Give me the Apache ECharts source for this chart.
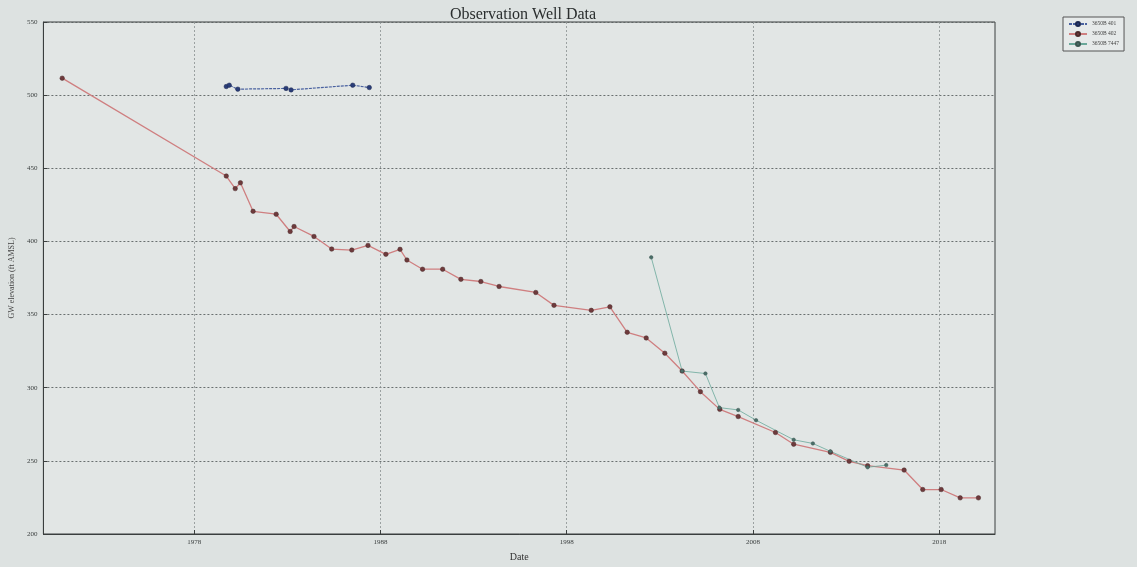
<!DOCTYPE html>
<html>
<head>
<meta charset="utf-8">
<script src="https://cdn.jsdelivr.net/npm/echarts@6/dist/echarts.min.js"></script>
<style>
  html, body { margin: 0; padding: 0; background: #dde2e1; }
  #chart { width: 1137px; height: 567px; }
</style>
</head>
<body>
<div id="chart"></div>
<script>
// ---- data (decimal years, GW elevation ft AMSL) ----
const seriesNames = ['3650B 401', '3650B 402', '3650B 7447'];

const blueYears  = [1979.72, 1979.88, 1980.34, 1982.93, 1983.20, 1986.51, 1987.40];
const blueLevels = [505.9, 506.8, 504.1, 504.6, 503.6, 506.8, 505.2];

const redYears  = [1970.91, 1979.72, 1980.20, 1980.48, 1981.16, 1982.40, 1983.15, 1983.36, 1984.43,
                   1985.38, 1986.46, 1987.33, 1988.29, 1989.05, 1989.42, 1990.26, 1991.34, 1992.32,
                   1993.39, 1994.37, 1996.34, 1997.32, 1999.32, 2000.32, 2001.25, 2002.27, 2003.27,
                   2004.20, 2005.18, 2006.22, 2007.21, 2009.21, 2010.19, 2012.16, 2013.17, 2014.16,
                   2016.12, 2017.12, 2018.11, 2019.13, 2020.11];
const redLevels = [511.6, 444.7, 436.1, 440.1, 420.6, 418.6, 406.8, 410.2, 403.4,
                   394.8, 394.1, 397.3, 391.2, 394.6, 387.3, 381.0, 381.0, 374.1,
                   372.6, 369.2, 365.1, 356.3, 352.9, 355.3, 337.9, 334.0, 323.6,
                   311.4, 297.3, 285.2, 280.3, 269.4, 261.4, 255.8, 249.7, 246.7,
                   243.7, 230.4, 230.4, 224.7, 224.7];

const tealYears  = [2002.54, 2004.20, 2005.45, 2006.20, 2007.21, 2008.17, 2010.19, 2011.22, 2012.16, 2014.16, 2015.16];
const tealLevels = [389.1, 311.4, 309.7, 286.4, 284.8, 277.8, 264.4, 261.9, 256.5, 245.6, 247.1];

const xTicks = [1978, 1988, 1998, 2008, 2018];

const zip = (a, b) => a.map((v, i) => [v, b[i]]);

const serif = '"Liberation Serif", "DejaVu Serif", serif';

const chart = echarts.init(document.getElementById('chart'));
chart.setOption({
  backgroundColor: '#dde2e1',
  animation: false,
  title: {
    text: 'Observation Well Data',
    left: 518, top: 2, textAlign: 'center',
    textStyle: { fontFamily: serif, fontSize: 16, fontWeight: 'normal', color: '#2a2e2e' }
  },
  legend: {
    orient: 'vertical',
    left: 1063, top: 17,
    padding: [4, 5, 4, 5],
    itemGap: 4,
    itemWidth: 18, itemHeight: 5,
    borderColor: '#555', borderWidth: 1,
    backgroundColor: '#e6eaea',
    textStyle: { fontFamily: serif, fontSize: 5.5, color: '#444' },
    data: seriesNames
  },
  grid: {
    left: 42, right: 142, top: 22, bottom: 30,
    show: true, backgroundColor: '#e2e6e5', borderColor: '#3a3e3e', borderWidth: 1
  },
  xAxis: {
    type: 'value',
    min: 1969.9, max: 2021.0,
    name: 'Date', nameLocation: 'middle', nameGap: 18,
    nameTextStyle: { fontFamily: serif, fontSize: 10, color: '#333' },
    axisLine: { show: true, lineStyle: { color: '#3a3e3e' } },
    axisTick: { show: true, inside: true, length: 4, customValues: xTicks, lineStyle: { color: '#3a3e3e' } },
    axisLabel: { customValues: xTicks, fontFamily: serif, fontSize: 7, color: '#3c4040', margin: 5,
                 formatter: v => String(Math.round(v)) },
    splitLine: { show: true, lineStyle: { color: '#8a9090', width: 0.8, type: [2, 2] } }
  },
  yAxis: {
    type: 'value',
    min: 200, max: 550, interval: 50,
    name: 'GW elevation (ft AMSL)', nameLocation: 'middle', nameGap: 25, nameRotate: 90,
    nameTextStyle: { fontFamily: serif, fontSize: 8, color: '#444' },
    axisLine: { show: true, lineStyle: { color: '#3a3e3e' } },
    axisTick: { show: true, inside: true, length: 4, lineStyle: { color: '#3a3e3e' } },
    axisLabel: { fontFamily: serif, fontSize: 7, color: '#3c4040', margin: 6 },
    splitLine: { show: true, lineStyle: { color: '#5c6262', width: 0.9, type: [2, 2] } }
  },
  series: [
    {
      name: seriesNames[0], type: 'line', data: zip(blueYears, blueLevels),
      symbol: 'circle', symbolSize: 4.5,
      lineStyle: { color: '#4a62a0', width: 1.2, type: [3, 1] },
      itemStyle: { color: '#2a3d78', borderColor: '#1c2850', borderWidth: 0.5 }
    },
    {
      name: seriesNames[1], type: 'line', data: zip(redYears, redLevels),
      symbol: 'circle', symbolSize: 4.5,
      lineStyle: { color: '#cf7f80', width: 1.3 },
      itemStyle: { color: '#6e3a3c', borderColor: '#4a2a2a', borderWidth: 0.5 }
    },
    {
      name: seriesNames[2], type: 'line', data: zip(tealYears, tealLevels),
      symbol: 'circle', symbolSize: 3.5,
      lineStyle: { color: '#6aa89a', width: 0.8 },
      itemStyle: { color: '#4b6e68', borderColor: '#3b5550', borderWidth: 0.5 },
      z: 3
    }
  ]
});
</script>
</body>
</html>
